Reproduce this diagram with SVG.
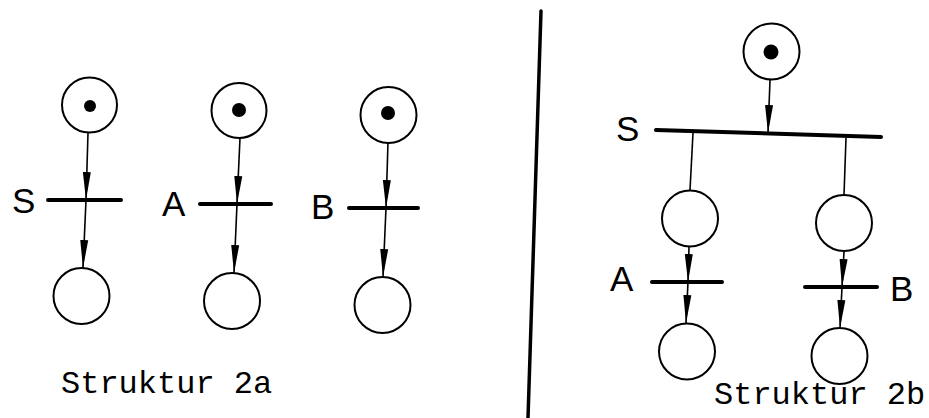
<svg xmlns="http://www.w3.org/2000/svg" width="929" height="418" viewBox="0 0 929 418">
<defs>
<marker id="ah" markerUnits="userSpaceOnUse" markerWidth="28" markerHeight="9" refX="28" refY="4.5" orient="auto">
<path d="M0,0.5 L28,4.5 L0,8.5 z" fill="#000"/>
</marker>
<style>
.place{fill:#fff;stroke:#000;stroke-width:2}
.token{fill:#000}
.trans{stroke:#000;stroke-width:4;stroke-linecap:round}
.arc{stroke:#000;stroke-width:1.6;fill:none}
.arr{marker-end:url(#ah)}
.lbl{font-family:"Liberation Sans",Arial,sans-serif;font-size:35px;fill:#000}
.cap{font-family:"Liberation Mono","Courier New",monospace;font-size:32px;fill:#000}
</style>
</defs>
<rect width="929" height="418" fill="#fff"/>
<g id="connectors">
<line class="arc arr" x1="88" y1="133" x2="86" y2="200"/>
<line class="arc arr" x1="86" y1="200" x2="83" y2="268"/>
<line class="arc arr" x1="240" y1="138" x2="237" y2="204"/>
<line class="arc arr" x1="237" y1="204" x2="234" y2="273"/>
<line class="arc arr" x1="388" y1="142" x2="386" y2="208"/>
<line class="arc arr" x1="386" y1="208" x2="383" y2="277"/>
<line class="arc arr" x1="770" y1="80" x2="768" y2="133"/>
<line class="arc" x1="693" y1="133" x2="690" y2="190"/>
<line class="arc" x1="846" y1="138" x2="844" y2="195"/>
<line class="arc arr" x1="689" y1="247" x2="688" y2="282"/>
<line class="arc arr" x1="688" y1="282" x2="686" y2="323"/>
<line class="arc arr" x1="844" y1="252" x2="842" y2="287"/>
<line class="arc arr" x1="842" y1="287" x2="840" y2="328"/>
</g>
<g id="divider"><line x1="541" y1="11" x2="528" y2="418" stroke="#000" stroke-width="3.5" stroke-linecap="round"/></g>
<g id="a-p1"><circle class="place" cx="89.5" cy="105" r="27.5"/><circle class="token" cx="90" cy="106" r="6"/></g>
<g id="a-tS"><line class="trans" x1="48" y1="200" x2="121" y2="200"/><text class="lbl" x="12" y="213">S</text></g>
<g id="a-p2"><circle class="place" cx="81.5" cy="296" r="28"/></g>
<g id="a-p3"><circle class="place" cx="239" cy="110.5" r="27.5"/><circle class="token" cx="239" cy="110" r="7"/></g>
<g id="a-tA"><line class="trans" x1="200" y1="204" x2="271" y2="204"/><text class="lbl" x="162" y="216">A</text></g>
<g id="a-p4"><circle class="place" cx="232" cy="301" r="28"/></g>
<g id="a-p5"><circle class="place" cx="388.5" cy="115" r="28"/><circle class="token" cx="388" cy="113" r="7"/></g>
<g id="a-tB"><line class="trans" x1="349" y1="208" x2="418" y2="208"/><text class="lbl" x="311" y="219">B</text></g>
<g id="a-p6"><circle class="place" cx="382.5" cy="305" r="28"/></g>
<text class="cap" x="61" y="393">Struktur 2a</text>
<g id="b-p1"><circle class="place" cx="771.5" cy="51.5" r="28"/><circle class="token" cx="771" cy="52" r="7.5"/></g>
<g id="b-tS"><line class="trans" x1="656" y1="130" x2="881" y2="137"/><text class="lbl" x="616" y="141">S</text></g>
<g id="b-p2"><circle class="place" cx="690" cy="218.5" r="28"/></g>
<g id="b-p3"><circle class="place" cx="844" cy="223" r="28"/></g>
<g id="b-tA"><line class="trans" x1="652" y1="282" x2="722" y2="282"/><text class="lbl" x="610" y="291">A</text></g>
<g id="b-tB"><line class="trans" x1="805" y1="287" x2="877" y2="287"/><text class="lbl" x="890" y="301">B</text></g>
<g id="b-p4"><circle class="place" cx="687" cy="351.5" r="28"/></g>
<g id="b-p5"><circle class="place" cx="839.5" cy="356" r="28"/></g>
<text class="cap" x="714" y="404">Struktur 2b</text>
</svg>
